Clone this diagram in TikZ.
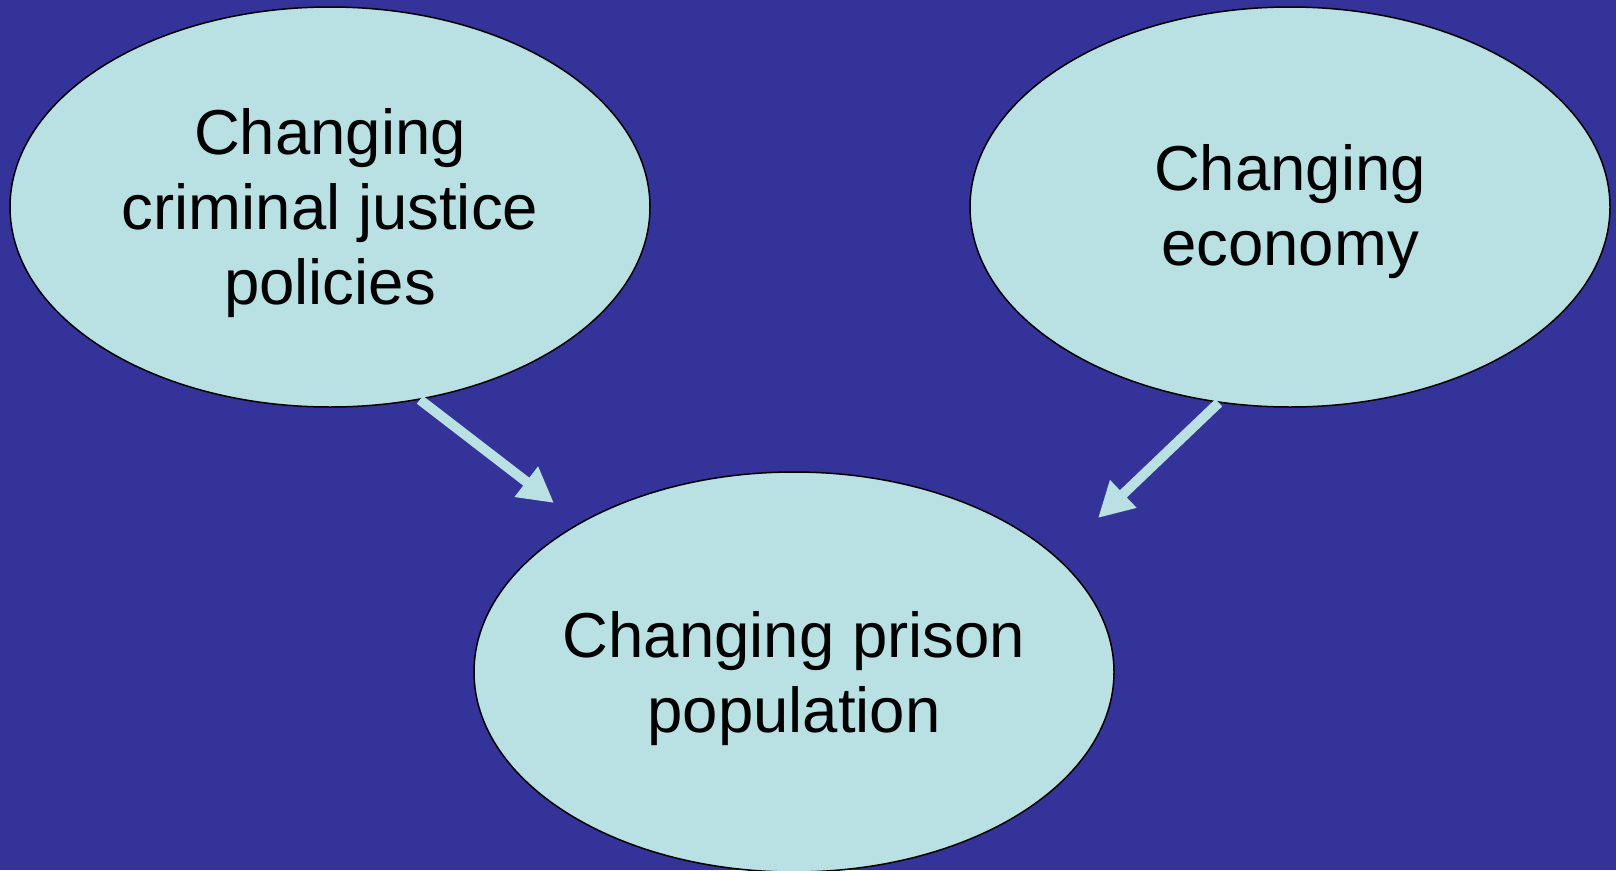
\documentclass[tikz,border=0pt]{standalone}
\usepackage{fontspec}
\setmainfont{Liberation Sans}
\usetikzlibrary{arrows.meta,shapes.geometric}
\definecolor{bgblue}{RGB}{51,51,153}
\definecolor{bubble}{RGB}{185,224,227}
\tikzset{
  bubblebox/.style={ellipse, draw=black, line width=1.5pt, fill=bubble,
    minimum width=640pt, minimum height=400pt, inner sep=0pt},
  bubbletext/.style={align=center, text=black, inner sep=0pt,
    font=\fontsize{63.5}{75}\selectfont},
  flow/.style={draw=bubble, line width=10pt,
    -{Triangle[length=35pt,width=36pt]}}
}
\begin{document}
\begin{tikzpicture}[x=1pt,y=-1pt]
  \fill[bgblue] (0,0) rectangle (1616,870);
  \useasboundingbox (0,0) rectangle (1616,870);
  \node[bubblebox] (L) at (330,207) {};
  \node[bubblebox] (R) at (1290,207) {};
  \node[bubblebox] (B) at (794,672) {};
  \node[bubbletext] (Lt) at (330,213) {Changing\\criminal justice\\policies};
  \node[bubbletext] (Rt) at (1290,212) {Changing\\economy};
  \node[bubbletext] (Bt) at (794,679) {Changing prison\\population};
  \coordinate (tipL) at (554,503);
  \coordinate (tipR) at (1098,518);
  \draw[flow] (L.-65.4) -- (tipL);
  \draw[flow] (R.-110.8) -- (tipR);
\end{tikzpicture}
\end{document}
